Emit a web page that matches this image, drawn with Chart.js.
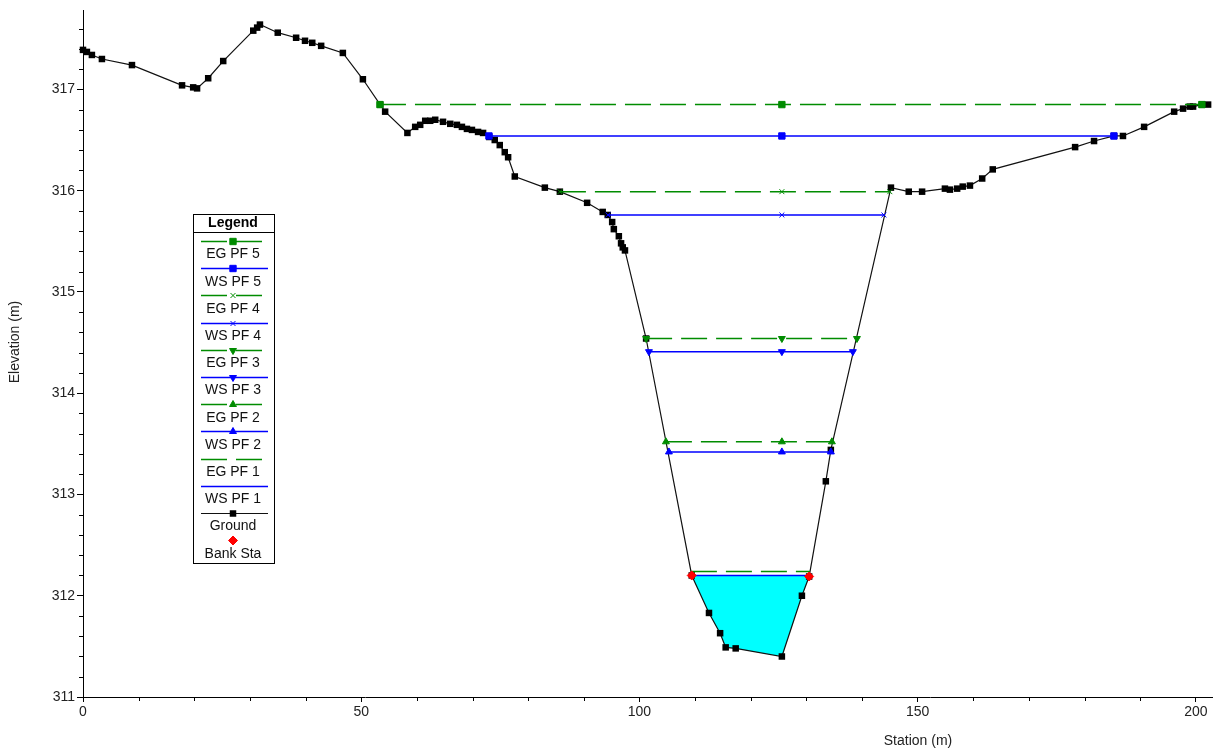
<!DOCTYPE html>
<html>
<head>
<meta charset="utf-8">
<title>Cross Section</title>
<script src="https://cdn.jsdelivr.net/npm/chart.js@4.4.0/dist/chart.umd.min.js"></script>
<style>
  html, body { margin: 0; padding: 0; background: #fff; }
  #wrap { width: 1220px; height: 751px; position: relative; }
</style>
</head>
<body>
<div id="wrap"><canvas id="xsChart"></canvas></div>
<script>
// Ground profile (station m, elevation m)
const groundStation = [0, 0.7, 1.6, 3.4, 8.8, 17.8, 19.8, 20.5, 22.5, 25.2, 30.6, 31.3, 31.8, 35.0, 38.3, 39.9, 41.2, 42.8, 46.7, 50.3,
  53.4, 54.3, 58.3, 59.7, 60.6, 61.5, 62.4, 63.3, 64.7, 66.0, 67.2, 68.1, 69.0, 69.9, 71.0, 71.9, 73.0, 74.0, 74.9, 75.8, 76.4, 77.6,
  83.0, 85.7, 90.6, 93.4, 94.3, 95.1, 95.4, 96.3, 96.7, 97.0, 97.4, 101.2, 109.4, 112.5, 114.5, 115.5, 117.3, 125.6, 129.2, 130.5,
  133.5, 134.4, 145.2, 148.4, 150.8, 154.9, 155.8, 157.1, 158.1, 159.4, 161.6, 163.5, 178.3, 181.7, 185.3, 186.9, 190.7, 196.1,
  197.7, 198.9, 199.5, 201.1, 202.2];
const groundElevation = [317.39, 317.37, 317.34, 317.30, 317.24, 317.04, 317.02, 317.01, 317.11, 317.28, 317.58, 317.61, 317.64, 317.56, 317.51, 317.48, 317.46, 317.43, 317.36, 317.10,
  316.85, 316.78, 316.57, 316.63, 316.65, 316.69, 316.69, 316.70, 316.68, 316.66, 316.65, 316.63, 316.61, 316.60, 316.58, 316.57, 316.53, 316.50, 316.45, 316.38, 316.33, 316.14,
  316.03, 315.99, 315.88, 315.79, 315.76, 315.69, 315.62, 315.55, 315.48, 315.44, 315.41, 314.54, 312.20, 311.83, 311.63, 311.49, 311.48, 311.40, 312.00, 312.19,
  313.13, 313.44, 316.03, 315.99, 315.99, 316.02, 316.01, 316.02, 316.04, 316.05, 316.12, 316.21, 316.43, 316.49, 316.54, 316.54, 316.63, 316.78,
  316.81, 316.83, 316.83, 316.85, 316.85];

// Profiles PF 1 .. PF 5
const profileNames = ['PF 1', 'PF 2', 'PF 3', 'PF 4', 'PF 5'];
const wsElevation = [312.20, 313.42, 314.41, 315.76, 316.54];
const wsLeft = [109.07, 105.30, 101.71, 94.34, 72.96];
const wsRight = [130.46, 134.41, 138.36, 143.94, 185.27];
const egElevation = [312.24, 313.52, 314.54, 315.99, 316.85];
const egLeft = [109.25, 104.76, 101.20, 85.71, 53.37];
const egRight = [130.64, 134.59, 139.09, 145.00, 201.08];
const centerStation = 125.6;

// Bank stations
const bankStation = [109.4, 130.5];
const bankElevation = [312.20, 312.19];

// Tick labels
const xTicks = [0, 50, 100, 150, 200];
const yTicks = [311, 312, 313, 314, 315, 316, 317];

const GREEN = '#008c00';
const BLUE = '#0000ff';
const markerStyles = [
  { style: false, radius: 0, rotation: 0 },
  { style: 'triangle', radius: 4, rotation: 0 },
  { style: 'triangle', radius: 4, rotation: 180 },
  { style: 'crossRot', radius: 3.5, rotation: 0 },
  { style: 'rect', radius: 4.5, rotation: 0 }
];

function levelPoints(left, right, elev) {
  return [{ x: left, y: elev }, { x: centerStation, y: elev }, { x: right, y: elev }];
}

const groundPoints = groundStation.map((s, i) => ({ x: s, y: groundElevation[i] }));
const channelPoints = groundPoints.filter(p => p.x >= bankStation[0] && p.x <= bankStation[1]);

const datasets = [];
datasets.push({
  label: 'Bank Sta',
  data: bankStation.map((s, i) => ({ x: s, y: bankElevation[i] })),
  showLine: false,
  pointStyle: 'rectRot',
  pointRadius: 4.5,
  pointBackgroundColor: '#ff0000',
  pointBorderColor: '#ff0000',
  pointBorderWidth: 1,
  borderWidth: 0
});
for (let p = profileNames.length - 1; p >= 0; p--) {
  const m = markerStyles[p];
  datasets.push({
    label: 'EG ' + profileNames[p],
    data: levelPoints(egLeft[p], egRight[p], egElevation[p]),
    showLine: true,
    borderColor: GREEN,
    borderWidth: 1.5,
    borderDash: [26, 9],
    pointStyle: m.style || 'circle',
    pointRadius: m.radius,
    pointRotation: m.rotation,
    pointBackgroundColor: GREEN,
    pointBorderColor: GREEN,
    pointBorderWidth: 1
  });
  datasets.push({
    label: 'WS ' + profileNames[p],
    data: levelPoints(wsLeft[p], wsRight[p], wsElevation[p]),
    showLine: true,
    borderColor: BLUE,
    borderWidth: 1.5,
    pointStyle: m.style || 'circle',
    pointRadius: m.radius,
    pointRotation: m.rotation,
    pointBackgroundColor: BLUE,
    pointBorderColor: BLUE,
    pointBorderWidth: 1
  });
}
datasets.push({
  label: 'Ground',
  data: groundPoints,
  showLine: true,
  borderColor: '#111',
  borderWidth: 1.2,
  pointStyle: 'rect',
  pointRadius: 4.6,
  pointBackgroundColor: '#000',
  pointBorderColor: '#000',
  pointBorderWidth: 0
});
datasets.push({
  label: 'water',
  data: channelPoints,
  showLine: true,
  borderWidth: 0,
  pointRadius: 0,
  backgroundColor: '#00ffff',
  fill: { value: wsElevation[0] }
});
datasets.forEach(d => { d.clip = false; });

// legend order: EG/WS PF5..PF1, Ground, Bank Sta
const legendOrder = [1, 2, 3, 4, 5, 6, 7, 8, 9, 10, 11, 0];

const FONT = "'Liberation Sans', Arial, sans-serif";

const minorTicks = {
  id: 'minorTicks',
  afterDraw(chart) {
    const { ctx, chartArea, scales: { x, y } } = chart;
    ctx.save();
    ctx.strokeStyle = '#000';
    ctx.lineWidth = 1;
    ctx.beginPath();
    for (let v = 10; v <= x.max; v += 10) {
      if (v % 50 === 0) continue;
      const px = Math.round(x.getPixelForValue(v)) + 0.5;
      ctx.moveTo(px, chartArea.bottom);
      ctx.lineTo(px, chartArea.bottom + 4);
    }
    for (let i = 1; ; i++) {
      const v = y.min + i * 0.2;
      if (v > y.max) break;
      if (i % 5 === 0) continue;
      const py = Math.round(y.getPixelForValue(v)) + 0.5;
      ctx.moveTo(chartArea.left - 4, py);
      ctx.lineTo(chartArea.left, py);
    }
    ctx.stroke();

    // axis titles
    ctx.fillStyle = '#222';
    ctx.font = '14px ' + FONT;
    ctx.textAlign = 'center';
    ctx.textBaseline = 'middle';
    ctx.fillText('Station (m)', 918, 741);
    ctx.translate(15, 342);
    ctx.rotate(-Math.PI / 2);
    ctx.fillText('Elevation (m)', 0, 0);
    ctx.restore();
  }
};

const boxLegend = {
  id: 'boxLegend',
  afterDraw(chart) {
    const ctx = chart.ctx;
    const left = 193.5, top = 214.5, width = 81, height = 349;
    const cx = 233;
    ctx.save();
    ctx.fillStyle = '#fff';
    ctx.fillRect(left, top, width, height);
    ctx.strokeStyle = '#000';
    ctx.lineWidth = 1;
    ctx.strokeRect(left, top, width, height);
    ctx.beginPath();
    ctx.moveTo(left, 232.5);
    ctx.lineTo(left + width, 232.5);
    ctx.stroke();

    ctx.fillStyle = '#000';
    ctx.textAlign = 'center';
    ctx.textBaseline = 'middle';
    ctx.font = 'bold 14px ' + FONT;
    ctx.fillText('Legend', cx, 223);

    ctx.font = '14px ' + FONT;
    legendOrder.forEach((idx, i) => {
      const ds = chart.data.datasets[idx];
      const sy = Math.round(241 + i * 27.2) + 0.5;
      const ty = 254.5 + i * 27.2;
      if (ds.showLine && ds.borderWidth > 0) {
        ctx.save();
        ctx.strokeStyle = ds.borderColor;
        ctx.lineWidth = ds.borderWidth;
        ctx.setLineDash(ds.borderDash || []);
        ctx.beginPath();
        ctx.moveTo(201, sy);
        ctx.lineTo(ds.borderDash ? 262 : 268, sy);
        ctx.stroke();
        ctx.restore();
      }
      if (ds.pointRadius > 0) {
        ctx.save();
        ctx.fillStyle = ds.pointBackgroundColor;
        ctx.strokeStyle = ds.pointBorderColor;
        Chart.helpers.drawPoint(ctx, {
          pointStyle: ds.pointStyle,
          radius: ds.pointRadius,
          rotation: ds.pointRotation || 0,
          borderWidth: ds.pointBorderWidth
        }, cx, sy);
        ctx.restore();
      }
      ctx.fillStyle = '#111';
      ctx.fillText(ds.label, cx, ty);
    });
    ctx.restore();
  }
};

new Chart(document.getElementById('xsChart'), {
  type: 'scatter',
  data: { datasets: datasets },
  options: {
    responsive: true,
    maintainAspectRatio: false,
    animation: false,
    devicePixelRatio: 1,
    layout: { padding: { top: 10, right: 8, left: 0, bottom: 0 } },
    plugins: {
      legend: { display: false },
      tooltip: { enabled: false }
    },
    scales: {
      x: {
        type: 'linear',
        min: 0,
        max: 202.9,
        border: { color: '#000', width: 1 },
        grid: { drawOnChartArea: false, drawTicks: true, tickLength: 5, color: '#000' },
        ticks: { color: '#222', padding: 2, font: { family: FONT, size: 14 }, maxRotation: 0, autoSkip: false },
        afterBuildTicks: s => { s.ticks = xTicks.map(v => ({ value: v })); },
        afterFit: s => { s.height = 54; }
      },
      y: {
        type: 'linear',
        min: 311,
        max: 317.78,
        border: { color: '#000', width: 1 },
        grid: { drawOnChartArea: false, drawTicks: true, tickLength: 6, color: '#000' },
        ticks: { color: '#222', padding: 2, font: { family: FONT, size: 14 }, autoSkip: false },
        afterBuildTicks: s => { s.ticks = yTicks.map(v => ({ value: v })); },
        afterFit: s => { s.width = 83; }
      }
    }
  },
  plugins: [minorTicks, boxLegend]
});
</script>
</body>
</html>
